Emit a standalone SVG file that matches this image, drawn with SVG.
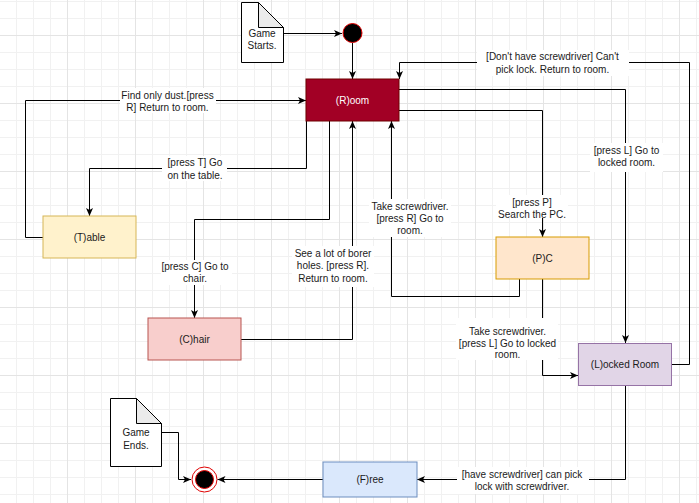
<svg xmlns="http://www.w3.org/2000/svg" width="699" height="503" viewBox="0 0 699 503">
<defs>
<pattern id="grid" patternUnits="userSpaceOnUse" x="67" y="35" width="68" height="68">
<path d="M17.5,0V68M34.5,0V68M51.5,0V68M0,17.5H68M0,34.5H68M0,51.5H68" stroke="#f1f1f1" stroke-width="1" fill="none"/>
<path d="M0.5,0V68M0,0.5H68" stroke="#e4e4e4" stroke-width="1" fill="none"/>
</pattern>
<marker id="arr" markerUnits="userSpaceOnUse" markerWidth="9" markerHeight="9" refX="8" refY="4" orient="auto" viewBox="0 0 9 8">
<path d="M0,0.5 L8,4 L0,7.5 L2,4 z" fill="#000"/>
</marker>
<style>
text{font-family:"Liberation Sans",Arial,sans-serif;font-size:10px;fill:#1a1a1a;text-anchor:middle}
.e{fill:none;stroke:#000;stroke-width:1}
.lb{fill:#fff;stroke:none}
.node rect{stroke-width:1}
.note{fill:#fff;stroke:#000;stroke-width:1}
.fold{fill:#ebebeb;stroke:#000;stroke-width:1}
</style>
</defs>
<rect width="699" height="503" fill="#fff"/>
<rect width="699" height="503" fill="url(#grid)"/>

<g id="connectors">
<path class="e" d="M283.5,33.5H342" marker-end="url(#arr)"/>
<path class="e" d="M352.5,43V79" marker-end="url(#arr)"/>
<path class="e" d="M43,237.5H25.5V100.5H306" marker-end="url(#arr)"/>
<path class="e" d="M306.5,121V168.5H89.5V216" marker-end="url(#arr)"/>
<path class="e" d="M329.5,121V219.5H194.5V318" marker-end="url(#arr)"/>
<path class="e" d="M241,339.5H352.5V121" marker-end="url(#arr)"/>
<path class="e" d="M519.5,279V296.5H391.5V121" marker-end="url(#arr)"/>
<path class="e" d="M399,110.5H542.5V237" marker-end="url(#arr)"/>
<path class="e" d="M399,89.5H625.5V343" marker-end="url(#arr)"/>
<path class="e" d="M671.5,364.5H689.5V62.5H399.5V79" marker-end="url(#arr)"/>
<path class="e" d="M542.5,279V375.5H578" marker-end="url(#arr)"/>
<path class="e" d="M625.5,385V479.5H417" marker-end="url(#arr)"/>
<path class="e" d="M323,479.5H217.5" marker-end="url(#arr)"/>
<path class="e" d="M162,432.5H178.5V479.5H191" marker-end="url(#arr)"/>

<rect class="lb" x="120" y="88" width="96" height="25"/>
<text x="167.5" y="98.5">Find only dust.[press</text>
<text x="167.5" y="110.5">R] Return to room.</text>

<rect class="lb" x="162" y="156" width="65" height="25"/>
<text x="195" y="166">[press T] Go</text>
<text x="195" y="178.5">on the table.</text>

<rect class="lb" x="161" y="260" width="71" height="25"/>
<text x="195" y="269.5">[press C] Go to</text>
<text x="195" y="281.5">chair.</text>

<rect class="lb" x="292" y="246" width="82" height="41"/>
<text x="333" y="257">See a lot of borer</text>
<text x="333" y="269">holes. [press R].</text>
<text x="333" y="281.5">Return to room.</text>

<rect class="lb" x="369" y="199" width="82" height="38"/>
<text x="410" y="209.5">Take screwdriver.</text>
<text x="410" y="221.5">[press R] Go to</text>
<text x="410" y="233.5">room.</text>

<rect class="lb" x="496" y="195" width="72" height="23"/>
<text x="532" y="205.5">[press P]</text>
<text x="532" y="217.5">Search the PC.</text>

<rect class="lb" x="590" y="143" width="73" height="29"/>
<text x="626.5" y="154">[press L] Go to</text>
<text x="626.5" y="166">locked room.</text>

<rect class="lb" x="477" y="50" width="152" height="26"/>
<text x="552.5" y="60">[Don't have screwdriver] Can't</text>
<text x="552.5" y="72.5">pick lock. Return to room.</text>

<rect class="lb" x="456" y="318" width="102" height="42"/>
<text x="507.5" y="335">Take screwdriver.</text>
<text x="507.5" y="346.5">[press L] Go to locked</text>
<text x="507.5" y="358">room.</text>

<rect class="lb" x="457" y="467" width="132" height="27"/>
<text x="522" y="477.5">[have screwdriver] can pick</text>
<text x="522" y="490">lock with screwdriver.</text>
</g>

<g id="game-starts">
<path class="note" d="M241.5,2.5H258.5L283.5,27.5V62.5H241.5Z"/>
<path class="fold" d="M258.5,2.5V27.5H283.5Z"/>
<text x="262" y="37">Game</text>
<text x="262" y="49">Starts.</text>
</g>

<g id="start">
<circle cx="352.5" cy="33" r="9.5" fill="#000" stroke="#e00000" stroke-width="1"/>
</g>

<g id="room" class="node">
<rect x="306" y="79" width="93" height="42" fill="#a20025" stroke="#6f0000"/>
<text x="352.5" y="103.5" style="fill:#fff">(R)oom</text>
</g>

<g id="table" class="node">
<rect x="43" y="216" width="93" height="42" fill="#fff2cc" stroke="#d6b656"/>
<text x="89.5" y="240.5">(T)able</text>
</g>

<g id="chair" class="node">
<rect x="148" y="318" width="93" height="42" fill="#f8cecc" stroke="#b85450"/>
<text x="194.5" y="342.5">(C)hair</text>
</g>

<g id="pc" class="node">
<rect x="496" y="237" width="93" height="42" fill="#ffe6cc" stroke="#d79b00"/>
<text x="542.5" y="261.5">(P)C</text>
</g>

<g id="locked-room" class="node">
<rect x="578.5" y="343.5" width="93" height="42" fill="#e1d5e7" stroke="#9673a6"/>
<text x="625" y="368">(L)ocked Room</text>
</g>

<g id="free" class="node">
<rect x="323" y="462" width="94" height="35" fill="#dae8fc" stroke="#6c8ebf"/>
<text x="370" y="483">(F)ree</text>
</g>

<g id="game-ends">
<path class="note" d="M110.5,398.5H136.5L161.5,423.5V466.5H110.5Z"/>
<path class="fold" d="M136.5,398.5V423.5H161.5Z"/>
<text x="136" y="436">Game</text>
<text x="136" y="448.5">Ends.</text>
</g>

<g id="end">
<circle cx="204.5" cy="479.5" r="12.5" fill="#fff" stroke="#e00000" stroke-width="1"/>
<circle cx="204.5" cy="479.5" r="9" fill="#000" stroke="#e00000" stroke-width="1"/>
</g>
</svg>
